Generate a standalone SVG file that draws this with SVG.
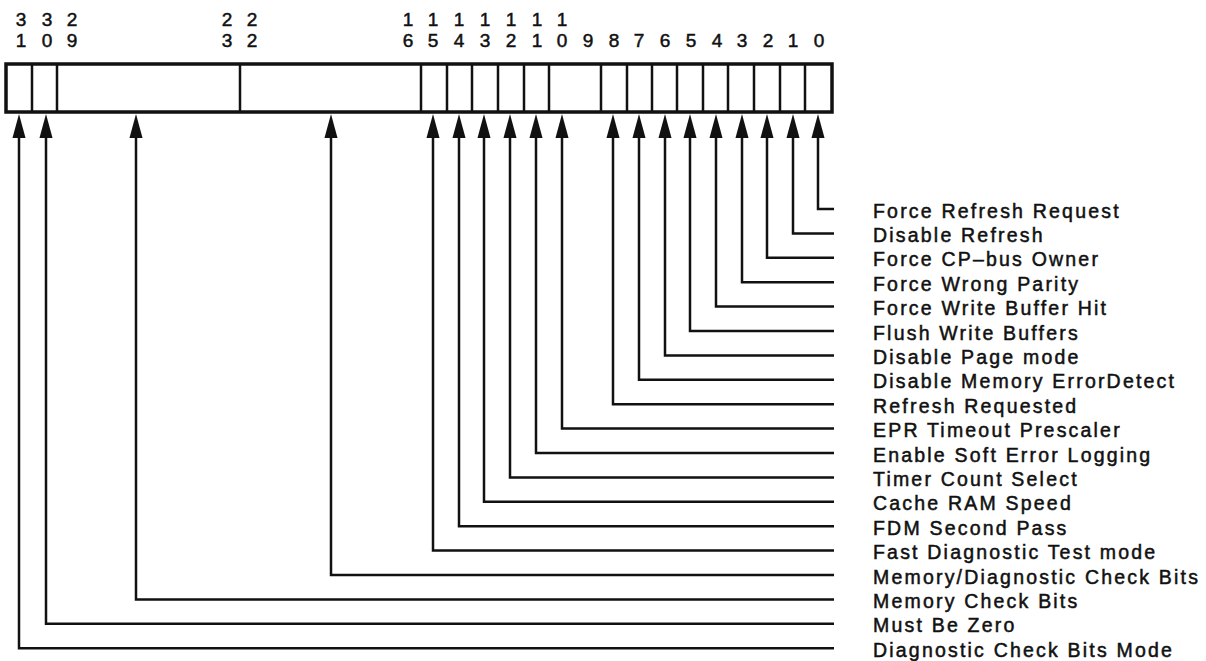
<svg xmlns="http://www.w3.org/2000/svg" width="1206" height="661" viewBox="0 0 1206 661">
<style>
.bitno{font-family:"Liberation Sans",Arial,sans-serif;font-size:19px;fill:#111;stroke:#111;stroke-width:0.5;text-anchor:middle}
.lbl{font-family:"Liberation Sans",Arial,sans-serif;font-size:19.5px;fill:#111;stroke:#111;stroke-width:0.5;letter-spacing:2.2px}
.reg{fill:#fff;stroke:#111;stroke-width:3.5}
.div{stroke:#111;stroke-width:2.5}
.conn{fill:none;stroke:#111;stroke-width:2.5;stroke-linejoin:miter}
</style>
<defs>
<marker id="ah" markerUnits="userSpaceOnUse" markerWidth="24" markerHeight="14" viewBox="0 0 22 12" refX="12" refY="6" orient="auto">
<path d="M0,0 L22,6 L0,12 Z" fill="#111"/>
</marker>
</defs>
<rect width="1206" height="661" fill="#fff"/>
<g id="bit-numbers">
<text class="bitno" x="21" y="26">3</text><text class="bitno" x="21" y="47">1</text>
<text class="bitno" x="47" y="26">3</text><text class="bitno" x="47" y="47">0</text>
<text class="bitno" x="72" y="26">2</text><text class="bitno" x="72" y="47">9</text>
<text class="bitno" x="227" y="26">2</text><text class="bitno" x="227" y="47">3</text>
<text class="bitno" x="252" y="26">2</text><text class="bitno" x="252" y="47">2</text>
<text class="bitno" x="408" y="26">1</text><text class="bitno" x="408" y="47">6</text>
<text class="bitno" x="433" y="26">1</text><text class="bitno" x="433" y="47">5</text>
<text class="bitno" x="459" y="26">1</text><text class="bitno" x="459" y="47">4</text>
<text class="bitno" x="485" y="26">1</text><text class="bitno" x="485" y="47">3</text>
<text class="bitno" x="511" y="26">1</text><text class="bitno" x="511" y="47">2</text>
<text class="bitno" x="537" y="26">1</text><text class="bitno" x="537" y="47">1</text>
<text class="bitno" x="562" y="26">1</text><text class="bitno" x="562" y="47">0</text>
<text class="bitno" x="588" y="47">9</text>
<text class="bitno" x="614" y="47">8</text>
<text class="bitno" x="639" y="47">7</text>
<text class="bitno" x="665" y="47">6</text>
<text class="bitno" x="691" y="47">5</text>
<text class="bitno" x="717" y="47">4</text>
<text class="bitno" x="742" y="47">3</text>
<text class="bitno" x="768" y="47">2</text>
<text class="bitno" x="793" y="47">1</text>
<text class="bitno" x="819" y="47">0</text>
</g>
<g id="register">
<rect class="reg" x="6" y="64" width="826" height="48"/>
<path class="div" d="M32,64V112 M57,64V112 M240,64V112 M421,64V112 M447,64V112 M472,64V112 M498,64V112 M524,64V112 M549,64V112 M601,64V112 M627,64V112 M652,64V112 M677,64V112 M703,64V112 M728,64V112 M754,64V112 M780,64V112 M805,64V112"/>
</g>
<g id="connectors">
<path class="conn" marker-end="url(#ah)" d="M834,209H818V125"/>
<path class="conn" marker-end="url(#ah)" d="M834,233.4H793V125"/>
<path class="conn" marker-end="url(#ah)" d="M834,257.8H767V125"/>
<path class="conn" marker-end="url(#ah)" d="M834,282.2H742V125"/>
<path class="conn" marker-end="url(#ah)" d="M834,306.6H716V125"/>
<path class="conn" marker-end="url(#ah)" d="M834,331H690V125"/>
<path class="conn" marker-end="url(#ah)" d="M834,355.4H665V125"/>
<path class="conn" marker-end="url(#ah)" d="M834,379.8H639V125"/>
<path class="conn" marker-end="url(#ah)" d="M834,404.2H613V125"/>
<path class="conn" marker-end="url(#ah)" d="M834,428.6H562V125"/>
<path class="conn" marker-end="url(#ah)" d="M834,453H536V125"/>
<path class="conn" marker-end="url(#ah)" d="M834,477.4H510V125"/>
<path class="conn" marker-end="url(#ah)" d="M834,501.8H484V125"/>
<path class="conn" marker-end="url(#ah)" d="M834,526.2H459V125"/>
<path class="conn" marker-end="url(#ah)" d="M834,550.6H433V125"/>
<path class="conn" marker-end="url(#ah)" d="M834,575H331V125"/>
<path class="conn" marker-end="url(#ah)" d="M834,599.4H136V125"/>
<path class="conn" marker-end="url(#ah)" d="M834,623.8H46V125"/>
<path class="conn" marker-end="url(#ah)" d="M834,648.2H19V125"/>
</g>
<g id="label-0"><text class="lbl" x="873" y="217.5">Force Refresh Request</text></g>
<g id="label-1"><text class="lbl" x="873" y="241.9">Disable Refresh</text></g>
<g id="label-2"><text class="lbl" x="873" y="266.3">Force CP–bus Owner</text></g>
<g id="label-3"><text class="lbl" x="873" y="290.7">Force Wrong Parity</text></g>
<g id="label-4"><text class="lbl" x="873" y="315.1">Force Write Buffer Hit</text></g>
<g id="label-5"><text class="lbl" x="873" y="339.5">Flush Write Buffers</text></g>
<g id="label-6"><text class="lbl" x="873" y="363.9">Disable Page mode</text></g>
<g id="label-7"><text class="lbl" x="873" y="388.3">Disable Memory ErrorDetect</text></g>
<g id="label-8"><text class="lbl" x="873" y="412.7">Refresh Requested</text></g>
<g id="label-9-10"><text class="lbl" x="873" y="437.1">EPR Timeout Prescaler</text></g>
<g id="label-11"><text class="lbl" x="873" y="461.5">Enable Soft Error Logging</text></g>
<g id="label-12"><text class="lbl" x="873" y="485.9">Timer Count Select</text></g>
<g id="label-13"><text class="lbl" x="873" y="510.3">Cache RAM Speed</text></g>
<g id="label-14"><text class="lbl" x="873" y="534.7">FDM Second Pass</text></g>
<g id="label-15"><text class="lbl" x="873" y="559.1">Fast Diagnostic Test mode</text></g>
<g id="label-16-22"><text class="lbl" x="873" y="583.5">Memory/Diagnostic Check Bits</text></g>
<g id="label-23-29"><text class="lbl" x="873" y="607.9">Memory Check Bits</text></g>
<g id="label-30"><text class="lbl" x="873" y="632.3">Must Be Zero</text></g>
<g id="label-31"><text class="lbl" x="873" y="656.7">Diagnostic Check Bits Mode</text></g>
</svg>
